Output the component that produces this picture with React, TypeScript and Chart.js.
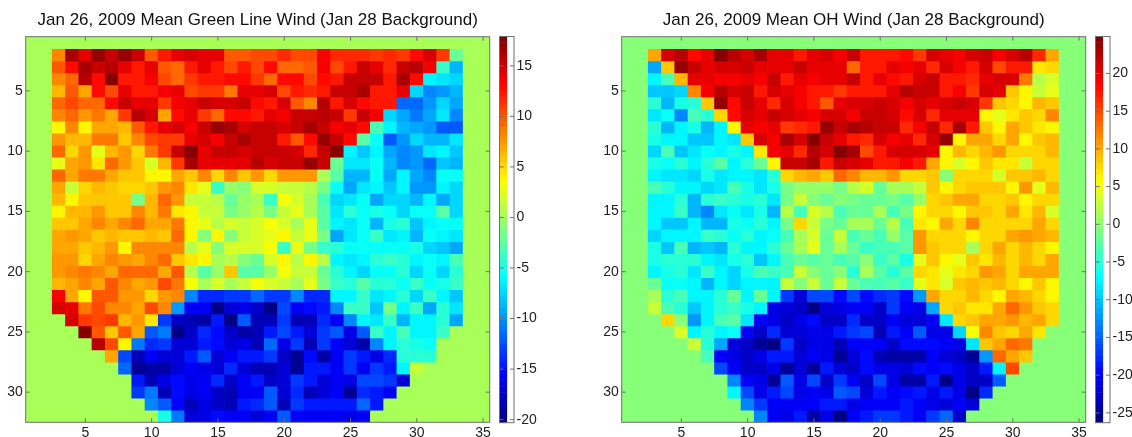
import React, { useEffect, useRef } from "react";
import { Chart, registerables } from "chart.js";

Chart.register(...registerables);

const TITLE_GREEN = "Jan 26, 2009 Mean Green Line Wind (Jan 28 Background)";
const TITLE_OH = "Jan 26, 2009 Mean OH Wind (Jan 28 Background)";
const xTicks = [5, 10, 15, 20, 25, 30, 35];
const yTicks = [5, 10, 15, 20, 25, 30];
const greenBarTicks = [15, 10, 5, 0, -5, -10, -15, -20];
const ohBarTicks = [20, 15, 10, 5, 0, -5, -10, -15, -20, -25];
const greenRange = [-20.3, 17.9];
const ohRange = [-26.3, 24.9];

const greenLineWind: number[][] = [
[0,0,0,0,0,0,0,0,0,0,0,0,0,0,0,0,0,0,0,0,0,0,0,0,0,0,0,0,0,0,0,0,0,0,0],
[0,0,7.9,16.4,14,17,15,17.2,15,9.8,12.3,14,14.5,14,14,10,10,10.5,10.5,11.5,10.5,10.5,13.5,11.7,11.7,11.7,11,11.7,11,12.8,14.5,11,-2,0,0],
[0,0,10,13,16.7,15.3,15.7,13.8,12.5,14,10,9.3,12.5,13.8,12,10.5,12,10.5,13,9,9,10,13.2,10.5,12,15.2,14,11.5,15.5,15.7,13.4,-4,-8.5,0,0],
[0,0,8,9,15.7,13,17.9,12.5,12.5,13.2,10.5,9.3,11,12,12,13,13,11,9,13,13,10.3,13,12.3,15.5,15.5,15,12,16.5,13,-6.5,-7,-7.5,0,0],
[0,0,6,10,7,13,10.5,14,12.5,12.5,13.5,14.3,10.5,11,11,8.7,14,14,14.7,10.5,12.5,11.5,12.5,15,15,16.3,12.5,12.5,14,-7.3,-10.3,-9.6,-8.5,0,0],
[0,0,9.3,10.5,9.3,9,12.8,15,14,14,11,13.2,14,15,14.5,14.5,15,12.8,12,14.5,9.8,8.2,15.7,12,14.5,12.8,12,12.5,-11.5,-11.5,-10,-7.7,-9,0,0],
[0,0,8.2,9,7.5,8.7,7,11,15.7,14.7,6.8,12.8,14,11,9.3,12.8,12.8,12,14.3,13.3,15.4,15.4,15.7,15,11,15,13.2,-7.7,-9,-10.8,-9.1,-7,-10.2,0,0],
[0,0,3.6,8,3.6,6.6,6.6,6.4,10,12,14.3,14.8,13.3,15,17,16.6,14.8,15,15,14.5,15,16.3,15.2,13.2,14.3,12.8,-3,-6.3,-8.8,-9.2,-9.6,-12,-12,0,0],
[0,0,7.2,6,6,8.5,8.5,5.8,8,10.3,11.3,11.3,14,14.8,13.2,15.3,16.2,15.5,15,12.3,9.8,12.6,17.2,15.2,12.8,-2.8,-5.5,-12,-9.8,-7.7,-8.6,-8.6,-6.7,0,0],
[0,0,9.3,5,7.7,2.5,6.2,7.5,4.8,8.5,11,15,17.5,14,15,15,14.7,15.5,15,15.5,14.7,11.5,15.2,17.8,-6.3,-8,-6,-9,-10.3,-9.6,-7,-6.5,-8,0,0],
[0,0,2.8,6.8,7.3,4.5,9.3,7.3,5.4,2.2,6,11.3,16.2,14,14.3,14.3,14,15.7,14.5,15.3,15.4,17.3,15.2,-2,-6.8,-7,-5.7,-8.8,-10.4,-9.8,-11.7,-7.8,-8.6,0,0],
[0,0,9.2,7,8.9,8.9,6.6,5.5,5.5,3.6,3.6,6.6,5.5,8,5,8,5.4,7.5,5,7.7,7.7,7.7,0.5,-2.7,-8.5,-8.5,-5.8,-9,-6.2,-9.4,-10.4,-5.8,-5.8,0,0],
[0,0,7,1.5,5,6.4,5.8,5,5,5.8,7.7,8,4.7,2.4,-3.8,-0.2,-1,1.8,1.8,1.3,1.3,0.6,-1.5,-5.6,-9,-6.7,-6.2,-7.8,-6.3,-9.8,-10,-6.2,-7.6,0,0],
[0,0,6,4,5.6,5.4,5.4,5.8,-1.3,6,9,7.5,1.3,1.3,0.6,-2.2,-0.2,0.5,-3.9,3,2,0.3,-3,-7.4,-7,-5.6,-9.4,-7.4,-7.6,-8.5,-6.5,-9.3,-7.2,0,0],
[0,0,3.6,6,6.4,7.7,5.4,5.8,8,6.4,8.7,4.2,3.8,1.4,1.4,-1.6,-0.2,0.6,-1.3,1.5,2.8,0.2,-2.4,-7,-4.6,-5.5,-5,-5.8,-7.6,-5.6,-5.6,-2.7,-7.4,0,0],
[0,0,5.4,5.4,6.8,8.2,6.6,8.2,9.3,7,6.6,8.5,3.6,2.6,0.6,1.8,1.4,2.2,3.3,2,0.3,2.6,-2.4,-6.3,-6.7,-5.7,-8.5,-5,-4.6,-7.8,-6.3,-5.5,-5.5,0,0],
[0,0,6.8,7.2,6.6,5.4,6.2,5.4,5.4,6,5.4,9.3,4,-1,4,-1,1.7,2.2,2.6,3.6,1.4,2.6,-1.5,-9.1,-7,-5.5,-3.9,-7,-6.2,-8.6,-5.6,-6.5,-7,0,0],
[0,0,7,6.6,5.4,6,7.5,3.8,8.2,8.2,8.2,8.2,0.6,2.8,-1.2,2,2,2,3.3,-3.8,2.6,-1.4,-3.8,-4.6,-5.5,-5.5,-5.5,-5.5,-5.5,-5.3,-7.6,-7.8,-9.1,0,0],
[0,0,7.2,7.7,5,7,8,7.7,6.6,8,9,5.6,4.7,4,0.2,0.6,-1,-1.8,1.8,4,1,4,1,-6,-7,-6.3,-4.2,-3.8,-4.2,-6.5,-5.5,-6.5,-3.3,0,0],
[0,0,7.2,8.2,8.9,8,6.8,9.3,9.3,9.2,6.8,9.8,0.6,-2.4,-0.2,5.8,-2.5,-2.8,-0.2,3,1.4,1.4,-1.8,-4.2,-6.3,-7.3,-5.5,-5.5,-4.7,-7.4,-5.5,-7.4,-4.7,0,0],
[0,0,6,6.8,8,6.8,9.6,8.2,6.8,7.7,10.5,8.7,3.3,0.3,2,0.3,1.7,3.3,2,1.3,0.5,2.5,-1.5,-3.8,-4.3,-2.4,-4.2,-4.2,-5.5,-3.8,-5.5,-5.3,-3.8,0,0],
[0,0,13.2,7,3.8,9.6,10,7.3,7.7,4.8,7.2,8,-10.7,-14,-14,-13.6,-13.3,-11.7,-13.3,-13.3,-10.5,-14.2,-14.2,-6.5,-6,-3.8,-7,-6.3,-4.2,-7.4,-3.8,-6.5,-8,0,0],
[0,0,14.6,14,8.5,10.5,8.2,8.2,7,10.6,8,-9.6,-16,-16,-20,-17,-16.5,-17.8,-19.8,-13,-16,-15.5,-14.8,-10.7,-3.8,-3.8,-7.8,-1.4,-6.3,-3.8,-9.4,-4.6,-6.7,0,0],
[0,0,0,14.6,11.3,10.3,11.3,6.2,7.5,4.6,-13.6,-17.7,-18,-18.7,-14.5,-20,-12,-18.3,-18.3,-13.3,-18,-18.3,-14,-16,-10.6,-6.2,-7,-3.9,-8.5,-6.5,-6.2,-4.6,-9,0,0],
[0,0,0,0,17.7,10,5.8,10,7,-12.4,-11.2,-20.3,-17.6,-14.2,-15.5,-17.6,-18.7,-18.3,-14.5,-13,-14.5,-17.2,-13.4,-12.4,-16.5,-12,-3.8,-6.3,-3.3,-6.5,-6.2,-3.7,0,0,0],
[0,0,0,0,0,15.8,10.3,3.8,-11,-14,-13.3,-16.8,-17,-14.8,-15.5,-17,-16.5,-18,-11.7,-16.6,-13.6,-18,-13.4,-16,-17.2,-18.8,-10.7,-6.5,-4.7,-5,-5.5,0,0,0,0],
[0,0,0,0,0,0,7,-13,-18,-15.8,-17,-17,-14.8,-12.2,-17.2,-16,-14.8,-14.8,-13.3,-17.4,-19.5,-15.2,-18.8,-16,-13.6,-14.4,-16.3,-14,-4.2,-4.2,-4.2,0,0,0,0],
[0,0,0,0,0,0,0,-11.5,-19.5,-18.8,-19,-16.8,-16,-16.4,-17.2,-14,-17.2,-18.3,-18.3,-17.2,-19.5,-14.5,-14.5,-15.8,-13.6,-16,-13.6,-14.5,-6.5,1.2,0,0,0,0,0],
[0,0,0,0,0,0,0,0,-14.8,-18,-16.6,-15.5,-16.6,-16,-14.2,-17.7,-16,-14.6,-17.7,-17,-13.3,-14.5,-17.2,-15.8,-16.2,-13,-13,-13.6,-17,0,0,0,0,0,0],
[0,0,0,0,0,0,0,0,-13.3,-11,-18,-15.5,-16.4,-16,-17.7,-18.3,-15.6,-15.6,-12,-17,-14,-18,-17,-15.8,-19.5,-14,-14.5,-16,0,0,0,0,0,0,0],
[0,0,0,0,0,0,0,0,0,-10.7,-12.4,-16,-18,-16.4,-17.9,-18,-14.5,-14,-12,-18.4,-13.3,-14.8,-14.8,-14.8,-14.5,-11.7,-14.5,0,0,0,0,0,0,0,0],
[0,0,0,0,0,0,0,0,0,0,-5,-11,-17,-16.4,-15.5,-15.8,-16,-17.2,-16,-12.4,-15.8,-16,-16,-16,-16.4,-16,0,0,0,0,0,0,0,0,0],
];

const ohWind: number[][] = [
[0,0,0,0,0,0,0,0,0,0,0,0,0,0,0,0,0,0,0,0,0,0,0,0,0,0,0,0,0,0,0,0,0,0,0],
[0,0,10.5,20.2,21.8,18.5,19.3,24.5,22,20.8,22.8,20,20,17.3,20,20.8,19,21.5,17,17.3,17,18,15.5,20.3,20,19,20.3,21,19,20.3,22,16.5,9.8,0,0],
[0,0,-11.5,8.7,23.5,21.5,19.5,20.2,20.2,21.5,20,20,20,21.5,19.5,19.5,19.5,13,17,17,20,18.8,19.5,16.5,20.2,18.7,17.5,20.3,15,17.6,17,6.8,7.8,0,0],
[0,0,-7.8,-3.7,9,19.5,19.5,18.7,19.2,20,18.7,21,17.3,20,18.7,20,20,21.5,17.3,19.8,18.5,17.6,20.5,21,17.6,17.6,16.2,19.8,20.6,20.2,12.5,2.4,3.6,0,0],
[0,0,-9.8,-9.8,-9,11.6,19,22.3,20.6,21.5,17.6,20.8,19.3,18.7,17,17,15.5,17,17.6,17.6,20,22,21,21.5,17.6,18.7,16,20.3,20,8.3,6.2,3.2,4.4,0,0],
[0,0,-4.8,-10.4,-6,-5,8.3,23.5,17.8,21.5,19.8,16.2,20.2,18.7,17.6,14.3,19.8,20.8,20.3,21,20.3,18.7,20.2,20,20.3,21,20.3,15.8,8.5,7.8,6.5,9,8.3,0,0],
[0,0,-8.6,-7,-13,-3.7,-4.8,7.8,17.8,20.8,20,21,20.2,19.8,19,20.2,20.2,19,21.5,21.5,20.3,18.5,20.8,16.8,19.5,19.5,19.5,6,4.5,7,8.3,7.8,11.3,0,0],
[0,0,-5.4,-11,-7.3,-6.2,-11,-7.3,6,19.5,18.7,19.5,15.8,16.5,17,24,21,23,22.5,21.5,21.5,16.2,18.7,21.5,16.8,22.8,17.3,8.7,6.2,10.5,8.3,7,6.2,0,0],
[0,0,-6.2,-7.5,-7.3,-9.6,-10.3,-7.5,-8.6,8.5,20.3,18.7,23,20.8,24.9,21.5,19.5,17,16.5,20.3,18.7,20,16.8,20.3,23.7,6,9.8,10.5,7.3,9.8,6,8.5,9.5,0,0],
[0,0,-9.3,-3.8,-9.8,-8,-7,-7.5,-6,-7.3,7,19,19.5,16.5,22.2,20.8,24.5,22.8,15,17.6,20.8,20.6,20.3,19.8,6,9,7.3,9,11,7.8,7.8,7.8,9,0,0],
[0,0,-6,-7,-5.5,-7.8,-4.8,-2.7,-7.2,-5.4,-2.2,6.2,21,21,22.8,17.3,21.5,20.3,20,17,17,19,17,9.8,6.2,3.6,6,8.7,6.8,6.8,3.2,7.8,7.8,0,0],
[0,0,-7.2,-8.3,-8.3,-9,-6,-8.6,-7.3,-7.3,-8.6,-5.4,7.8,9,10.5,8.5,13,11.6,9.2,9.2,10.8,7.3,7.8,8.7,-0.7,7.3,7.8,7.8,3.3,8.7,8.7,9.2,7.5,0,0],
[0,0,-3.3,-4.8,-7.3,-7.3,-9,-8.6,-3.3,-6,-8.6,-6,-1.2,0.6,0.6,0.6,-1,2.4,3.9,-2.2,1.4,1.4,2.7,8.7,6.2,7.3,8.3,8.7,8.7,6.2,11,4.2,9.2,0,0],
[0,0,-7.8,-7.2,-4.8,-10.6,-5.5,-4.3,-4.8,-6,-4.8,-8,-1.2,3.2,0,-1.8,-0.7,-1.2,-2.2,-2.2,-1,-2.7,0.6,7.8,8.3,10.5,10.2,7.3,7.3,8.3,6.3,7.8,7.3,0,0],
[0,0,-7.2,-7.3,-4.3,-11,-13,-8.7,-6.5,-8,-6,-10.8,1.9,-3.3,3.7,1.9,-3.8,-2.2,-2.2,1,-3.8,-1.2,6,7.8,7.8,6,8.3,8.3,7.8,9.8,7,9,4,0,0],
[0,0,-7.5,-9.8,-9.6,-7.5,-10.4,-10.6,-6,-6.5,-5.5,-7.5,-1.2,7.8,2.7,-1.2,-2.2,1.5,1.5,-2.2,1.9,-3.8,6.8,6.2,9.8,7.3,11.6,7.3,7.3,7.3,7.3,9.8,7.5,0,0],
[0,0,-9,-7.3,-7.3,-7.3,-4.3,-5.4,-6.8,-5.4,-7.5,-6.5,-3.2,1.4,3.9,-1.7,2.7,-3.3,-1.7,-3.8,0.6,-2.7,11,7.3,7.8,7.8,6,7.8,7.8,10.2,10.8,10.2,9.5,0,0],
[0,0,-6.3,-9.6,-3.3,-10.8,-9.6,-10.4,-5,-7.3,-7.3,-4.8,-1.7,1.5,4.2,-2.2,1.5,-1.7,-4.3,-3.8,-3.8,-2.7,11,8.7,7.3,7.8,1,7.8,10.2,7.8,9,7.3,6,0,0],
[0,0,-6.3,-4.8,-5.4,-4.8,-7.3,-8.3,-6,-5.5,-9.6,-7.2,-3.8,-1.7,-2.7,-2.2,-3.3,-2.7,-0.7,-4.3,-2.7,-6,4.4,8.7,6,4.8,8.7,6.8,9,7.3,9.2,7.3,9.8,0,0],
[0,0,-7.2,-6,-5.5,-8.6,-4.3,-7.3,-9,-6.3,-3.8,-4.3,-3.8,2.7,-0.7,-1.7,-0.7,-4.8,1.5,-2.7,-4.8,-2.7,7.8,6.8,4.8,6.8,7.8,11,10.2,7.8,10.2,10.2,10.2,0,0],
[0,0,-2.2,-7,-6.5,-7.5,-10.4,-7.3,-9,-7.3,-7.3,-7.3,2.5,-0.7,2.7,-1.7,2.5,-2.2,-3.8,-3.8,-2.7,-4.3,4.4,6.8,4,8.3,9,8.3,9,7.3,6.2,8.5,6,0,0],
[0,0,1.2,-5.5,-3.8,-7.8,-7.8,-4.8,-2.2,-7.2,-2.2,-7.3,-17.3,-21.7,-16,-16,-19.9,-16,-19.9,-17.8,-17.3,-19.9,-12.3,10.5,7.5,7.8,9,7.5,6,10.2,9,7.8,6,0,0],
[0,0,2.7,-3.8,-4.8,-10,-7.3,-4.8,-4.3,-6.3,-7.2,-21.2,-22,-22.4,-25.8,-22.2,-20.9,-20.5,-20.5,-22.7,-17.3,-20,-21.2,-11.5,7.3,8.5,6.8,6.8,10.2,13.5,11,8.3,7.8,0,0],
[0,0,0,7.8,-0.7,-12,-7.3,-3.8,-2.7,-8.6,-20,-21.3,-23,-21.3,-19.9,-23,-22.7,-17.8,-23,-22.4,-20.7,-21.7,-22,-20.5,-8.6,7.8,8.7,10.2,10.2,11,9.5,10.5,7.3,0,0],
[0,0,0,0,3.3,-7.3,-4.8,-7.3,-7,-20,-22.7,-17.8,-21.7,-21.7,-21,-21,-18.5,-17.3,-16.7,-23.7,-18.6,-20.6,-15.3,-21.3,-21.2,-9,4.9,11.6,8.7,7.8,10.5,7,0,0,0],
[0,0,0,0,0,2.9,-4.8,-11.5,-21.7,-23,-24.8,-26.3,-17.3,-22.7,-21.3,-21,-23.3,-20.5,-20.5,-20.7,-23,-19.3,-19.9,-19.9,-20.6,-21,-8,8.7,9.8,13,12.8,0,0,0,0],
[0,0,0,0,0,0,-3.3,-20,-21.3,-23,-21.2,-18.7,-18.7,-22,-20,-21,-24.8,-22,-19.2,-23.7,-24,-24.2,-24.5,-20.6,-22.2,-22.4,-25.3,-12,13.5,10.5,8.3,0,0,0,0],
[0,0,0,0,0,0,0,-16,-20.6,-22.7,-22.7,-21.3,-25.5,-21.7,-25,-18.5,-21.7,-22.4,-19.4,-21.3,-21.3,-22,-19.4,-20.6,-19.2,-21,-23,-18.6,-7.5,15,0,0,0,0,0],
[0,0,0,0,0,0,0,0,-13.4,-20.5,-21.3,-25.2,-15.5,-21.3,-16.7,-23,-17.3,-20,-22.4,-16,-21.3,-24.2,-24,-18.5,-25.8,-21,-23,-22.4,-15.5,0,0,0,0,0,0],
[0,0,0,0,0,0,0,0,-7.8,-16.7,-21.3,-18.9,-16,-21.3,-20,-21.3,-15.5,-16.7,-22,-18.5,-20.6,-19.2,-18.9,-21,-18.4,-21,-26,-17.8,0,0,0,0,0,0,0],
[0,0,0,0,0,0,0,0,0,-13,-17.3,-20,-20.5,-20,-20.5,-18.5,-18.9,-21,-20.7,-20.7,-20.5,-18.5,-20.5,-21,-21.7,-20.5,-22,0,0,0,0,0,0,0,0],
[0,0,0,0,0,0,0,0,0,0,-13.4,-20,-21,-18.5,-24,-21,-26,-20,-18.5,-17.3,-17.3,-19,-20.6,-17.3,-15,-23,0,0,0,0,0,0,0,0,0],
];

const LEVELS = 64;
const FRAME = "#6f6f6f";
const FONT = "'Liberation Sans', Arial, sans-serif";

function jet(t: number): string {
  const idx = Math.max(0, Math.min(LEVELS - 1, Math.floor(t * LEVELS)));
  const u = (idx + 0.5) / LEVELS;
  const c = (x: number) => Math.round(255 * Math.max(0, Math.min(1, 1.5 - Math.abs(4 * u - x))));
  return `rgb(${c(3)},${c(2)},${c(1)})`;
}
const colorOf = (v: number, r: number[]) => jet((v - r[0]) / (r[1] - r[0]));

const framePlugin = {
  id: "frame",
  afterDatasetsDraw(chart: any) {
    const { ctx, chartArea: a, scales } = chart;
    ctx.save();
    ctx.strokeStyle = FRAME;
    ctx.lineWidth = 1;
    ctx.strokeRect(a.left, a.top, a.right - a.left, a.bottom - a.top);
    const len = 4;
    if (scales.x.options.display) {
      scales.x.ticks.forEach((t: any) => {
        const p = scales.x.getPixelForValue(t.value);
        ctx.beginPath();
        ctx.moveTo(p, a.top);
        ctx.lineTo(p, a.top + len);
        ctx.moveTo(p, a.bottom);
        ctx.lineTo(p, a.bottom - len);
        ctx.stroke();
      });
    }
    scales.y.ticks.forEach((t: any) => {
      const p = scales.y.getPixelForValue(t.value);
      ctx.beginPath();
      ctx.moveTo(a.left, p);
      ctx.lineTo(a.left + len, p);
      ctx.moveTo(a.right, p);
      ctx.lineTo(a.right - len, p);
      ctx.stroke();
    });
    ctx.restore();
  },
};

const tickFont = { family: FONT, size: 14 };

function heatmapConfig(title: string, matrix: number[][], range: number[], yWidth: number, padRight: number): any {
  return {
    type: "bar",
    data: {
      datasets: matrix.map((row, r) => ({
        data: row.map((_, c) => ({ x: c + 1, y: [r + 0.5, r + 1.5] })),
        backgroundColor: row.map((v) => colorOf(v, range)),
        borderWidth: 0,
        barPercentage: 1,
        categoryPercentage: 1,
        grouped: false,
      })),
    },
    plugins: [framePlugin],
    options: {
      animation: false,
      responsive: false,
      layout: { padding: { left: 0, right: padRight, top: 0, bottom: 0 } },
      plugins: {
        legend: { display: false },
        tooltip: { enabled: false },
        title: {
          display: true,
          fullSize: false,
          text: title,
          color: "#111",
          font: { family: FONT, size: 17, weight: "normal", lineHeight: 1.2 },
          padding: { top: 10, bottom: 6.3 },
        },
      },
      scales: {
        x: {
          type: "linear",
          min: 0.5,
          max: 35.5,
          offset: false,
          grid: { display: false, drawTicks: false },
          border: { display: false },
          afterBuildTicks: (s: any) => { s.ticks = xTicks.map((value) => ({ value })); },
          afterFit: (s: any) => { s.height = 14.7; },
          ticks: { color: "#222", font: tickFont, padding: 2, maxRotation: 0, autoSkip: false },
        },
        y: {
          type: "linear",
          reverse: true,
          min: 0.5,
          max: 32.5,
          grid: { display: false, drawTicks: false },
          border: { display: false },
          afterBuildTicks: (s: any) => { s.ticks = yTicks.map((value) => ({ value })); },
          afterFit: (s: any) => { s.width = yWidth; },
          ticks: { color: "#222", font: tickFont, padding: 3, autoSkip: false },
        },
      },
    },
  };
}

function colorbarConfig(range: number[], ticks: number[], yWidth: number): any {
  const step = (range[1] - range[0]) / LEVELS;
  const bands = Array.from({ length: LEVELS }, (_, i) => i);
  return {
    type: "bar",
    data: {
      labels: [""],
      datasets: bands.map((i) => ({
        data: [[range[0] + i * step, range[0] + (i + 1) * step]],
        backgroundColor: jet((i + 0.5) / LEVELS),
        borderWidth: 0,
        barPercentage: 1,
        categoryPercentage: 1,
        grouped: false,
      })),
    },
    plugins: [framePlugin],
    options: {
      animation: false,
      responsive: false,
      layout: { padding: { left: 0.5, right: 0, top: 36.5, bottom: 14.3 } },
      plugins: { legend: { display: false }, tooltip: { enabled: false }, title: { display: false } },
      scales: {
        x: { display: false, offset: false },
        y: {
          position: "right",
          min: range[0],
          max: range[1],
          grid: { display: false, drawTicks: false },
          border: { display: false },
          afterBuildTicks: (s: any) => { s.ticks = ticks.map((value) => ({ value })); },
          afterFit: (s: any) => { s.width = yWidth; },
          ticks: { color: "#222", font: tickFont, padding: 2.5, autoSkip: false },
        },
      },
    },
  };
}

function ChartCanvas({ left, width, config }: { left: number; width: number; config: () => any }) {
  const ref = useRef<HTMLCanvasElement>(null);
  useEffect(() => {
    const chart = new Chart(ref.current as HTMLCanvasElement, config());
    return () => chart.destroy();
  }, []);
  return (
    <canvas
      ref={ref}
      width={width}
      height={437}
      style={{ position: "absolute", left, top: 0, width, height: 437, display: "block" }}
    />
  );
}

export default function App() {
  return (
    <div style={{ position: "fixed", left: 0, top: 0, width: 1132, height: 437, background: "#fff", overflow: "hidden" }}>
      <ChartCanvas left={0} width={516} config={() => heatmapConfig(TITLE_GREEN, greenLineWind, greenRange, 25.7, 26.3)} />
      <ChartCanvas left={592} width={524} config={() => heatmapConfig(TITLE_OH, ohWind, ohRange, 29.7, 30.3)} />
      <ChartCanvas left={499} width={43} config={() => colorbarConfig(greenRange, greenBarTicks, 28)} />
      <ChartCanvas left={1095} width={37} config={() => colorbarConfig(ohRange, ohBarTicks, 22)} />
    </div>
  );
}
